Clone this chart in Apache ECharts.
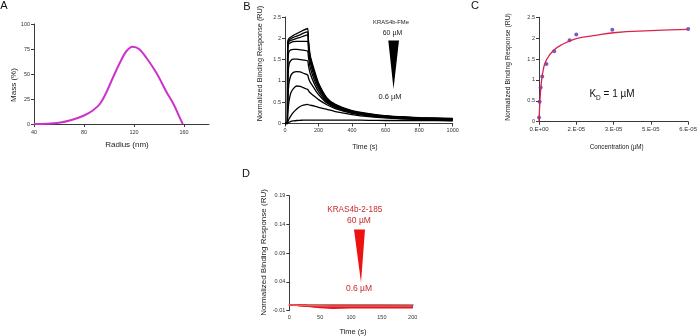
<!DOCTYPE html>
<html><head><meta charset="utf-8">
<script src="https://cdn.jsdelivr.net/npm/echarts@6/dist/echarts.min.js"></script>
<style>html,body{margin:0;padding:0;background:#fff}#c{width:700px;height:336px}</style>
</head><body><div id="c"></div>
<script>
// ---------- Panel A : mass distribution ----------
const radiusNm = [40, 50, 60, 70, 80, 87, 93, 98, 103, 109, 114, 119, 124, 130, 138, 146, 152, 156, 159];
const massPct  = [0, 0.2, 1.2, 4, 8.5, 13.5, 20.5, 32, 46, 62, 73, 77.3, 75, 66, 51, 32, 19, 8, 0];
const aXTicks = [40, 80, 120, 160];

// ---------- Panel B : KRAS4b-FMe sensorgrams ----------
const bTime   = [0, 14, 16, 20, 25, 35, 50, 70, 90, 110, 135, 140, 150, 175, 200, 250, 300, 400, 500, 600, 800, 1000];
const bCurve1 = [0, 0, 1.92, 1.97, 2.0, 2.03, 2.07, 2.11, 2.15, 2.19, 2.23, 1.95, 1.6, 1.25, 0.95, 0.6, 0.45, 0.3, 0.23, 0.18, 0.14, 0.12];
const bCurve2 = [0, 0, 1.88, 1.93, 1.96, 1.99, 2.02, 2.05, 2.08, 2.12, 2.15, 1.9, 1.56, 1.2, 0.92, 0.58, 0.44, 0.29, 0.22, 0.18, 0.13, 0.11];
const bCurve3 = [0, 0, 1.84, 1.9, 1.93, 1.95, 1.97, 2.0, 2.02, 2.05, 2.08, 1.85, 1.52, 1.15, 0.9, 0.57, 0.43, 0.28, 0.22, 0.17, 0.13, 0.11];
const bCurve4 = [0, 0, 1.72, 1.84, 1.88, 1.9, 1.92, 1.93, 1.93, 1.93, 1.93, 1.74, 1.44, 1.1, 0.86, 0.55, 0.42, 0.28, 0.21, 0.17, 0.12, 0.1];
const bCurve5 = [0, 0, 1.4, 1.62, 1.7, 1.73, 1.74, 1.74, 1.73, 1.72, 1.7, 1.55, 1.32, 1.02, 0.81, 0.53, 0.41, 0.27, 0.21, 0.16, 0.12, 0.1];
const bCurve6 = [0, 0, 0.9, 1.25, 1.4, 1.48, 1.51, 1.51, 1.5, 1.49, 1.47, 1.36, 1.18, 0.93, 0.75, 0.51, 0.39, 0.26, 0.2, 0.16, 0.11, 0.09];
const bCurve7 = [0, 0, 0.45, 0.8, 0.98, 1.13, 1.2, 1.22, 1.21, 1.18, 1.14, 1.07, 0.97, 0.82, 0.68, 0.48, 0.37, 0.25, 0.19, 0.15, 0.11, 0.09];
const bCurve8 = [0, 0, 0.2, 0.4, 0.55, 0.72, 0.82, 0.88, 0.87, 0.84, 0.8, 0.77, 0.72, 0.64, 0.56, 0.44, 0.35, 0.24, 0.18, 0.14, 0.1, 0.08];
const bCurve9 = [0, 0, 0.03, 0.07, 0.11, 0.18, 0.26, 0.34, 0.4, 0.43, 0.45, 0.44, 0.43, 0.41, 0.38, 0.33, 0.28, 0.21, 0.16, 0.13, 0.09, 0.07];
const bCurve10 = [0, 0, 0.01, 0.02, 0.03, 0.05, 0.06, 0.07, 0.075, 0.08, 0.08, 0.08, 0.08, 0.08, 0.08, 0.08, 0.08, 0.08, 0.075, 0.07, 0.07, 0.06];

// ---------- Panel C : steady-state binding ----------
const cConc = [1e-8, 2.5e-7, 6.6e-7, 1.3e-6, 3e-6, 6.1e-6, 1.23e-5, 1.5e-5, 2.95e-5, 6e-5];
const cResp = [0.1, 0.48, 0.82, 1.08, 1.38, 1.69, 1.95, 2.09, 2.2, 2.22];
const cFitConc = [0, 2.6e-7, 8e-7, 1.7e-6, 3e-6, 5.7e-6, 9.7e-6, 1.5e-5, 2.2e-5, 3e-5, 4.5e-5, 6e-5];
const cFitResp = [0, 0.36, 0.84, 1.24, 1.48, 1.70, 1.86, 1.99, 2.06, 2.13, 2.18, 2.21];
const cTickLabels = ['0.E+00', '2.E-05', '3.E-05', '5.E-05', '6.E-05'];

// ---------- Panel D : KRAS4b-2-185 sensorgrams ----------
const dTime  = [0, 10, 12, 13, 15, 30, 50, 70, 100, 150, 200];
const dResp1 = [0, 0, 0.002, 0, 0, -0.0005, -0.001, -0.001, -0.001, -0.001, -0.0015];
const dResp2 = [0, 0, 0.002, 0, -0.0005, -0.0015, -0.002, -0.0025, -0.0025, -0.003, -0.003];
const dResp3 = [0, 0, 0.001, 0, -0.001, -0.002, -0.0035, -0.004, -0.004, -0.004, -0.004];
const dResp4 = [0, 0, 0.001, 0, -0.001, -0.0025, -0.0045, -0.006, -0.005, -0.005, -0.005];
const dResp5 = [0, 0, 0.001, 0, -0.0005, -0.001, -0.0015, -0.002, -0.002, -0.002, -0.002];

const FONT = 'Liberation Sans, Arial, sans-serif';
const zip = (xs, ys) => xs.map((x, i) => [x, ys[i]]);

function ax(extra, fs) {
  const base = {
    type: 'value',
    axisLine: { show: true, onZero: false, lineStyle: { color: '#3a3a3a', width: 1 } },
    axisTick: { show: true, length: 3, lineStyle: { color: '#3a3a3a' } },
    axisLabel: { fontSize: fs || 5.5, color: '#333', margin: 4, fontFamily: FONT, formatter: v => String(v) },
    splitLine: { show: false }
  };
  return Object.assign(base, extra);
}

const bCurves = [bCurve1, bCurve2, bCurve3, bCurve4, bCurve5, bCurve6, bCurve7, bCurve8, bCurve9, bCurve10];
const dCurves = [dResp1, dResp2, dResp3, dResp4, dResp5];

const series = [];
series.push({ type: 'line', xAxisIndex: 0, yAxisIndex: 0, data: zip(radiusNm, massPct), smooth: 0.35,
  symbol: 'none', lineStyle: { color: '#cc33cc', width: 2 } });
bCurves.forEach(c => series.push({ type: 'line', xAxisIndex: 1, yAxisIndex: 1, data: zip(bTime, c),
  symbol: 'none', smooth: 0.2, lineStyle: { color: '#000', width: 1.3 } }));
series.push({ type: 'line', xAxisIndex: 2, yAxisIndex: 2, data: zip(cFitConc, cFitResp), smooth: true,
  symbol: 'none', lineStyle: { color: '#d6264f', width: 1.3 } });
series.push({ type: 'scatter', xAxisIndex: 2, yAxisIndex: 2, data: zip(cConc, cResp), symbolSize: 4,
  itemStyle: { color: '#5533bb' } });
dCurves.forEach((c, i) => series.push({ type: 'line', xAxisIndex: 3, yAxisIndex: 3, data: zip(dTime, c),
  symbol: 'none', lineStyle: { color: i === 4 ? '#f06060' : '#e3161c', width: 1.4 } }));

function txt(x, y, text, fs, color, rot, extra) {
  return Object.assign({ type: 'text', x: x, y: y, rotation: rot || 0,
    style: { text: text, fontSize: fs, fill: color || '#222', fontFamily: FONT, align: 'center', verticalAlign: 'middle' } }, extra || {});
}

const option = {
  animation: false,
  backgroundColor: '#fff',
  grid: [
    { left: 34, top: 24, width: 175, height: 100 },
    { left: 285, top: 17, width: 167.7, height: 106.5 },
    { left: 539, top: 17.3, width: 151, height: 104.4 },
    { left: 289.3, top: 195.7, width: 123.4, height: 115 }
  ],
  xAxis: [
    ax({ gridIndex: 0, min: 40, max: 180, interval: 40, axisLabel: { fontSize: 5.5, color: '#333', margin: 5, fontFamily: FONT, showMaxLabel: false } }),
    ax({ gridIndex: 1, min: 0, max: 1000, interval: 200 }),
    ax({ gridIndex: 2, min: 0, max: 6e-5, interval: 1.5e-5,
      axisLabel: { fontSize: 6, color: '#333', margin: 5, fontFamily: FONT,
        formatter: v => cTickLabels[Math.round(v / 1.5e-5)] } }),
    ax({ gridIndex: 3, min: 0, max: 200, interval: 50,
      axisLine: { show: true, onZero: true, lineStyle: { color: '#9a9a9a', width: 2 } } })
  ],
  yAxis: [
    ax({ gridIndex: 0, min: 0, max: 100, interval: 25 }),
    ax({ gridIndex: 1, min: 0, max: 2.5, interval: 0.5 }),
    ax({ gridIndex: 2, min: 0, max: 2.5, interval: 0.5 }),
    ax({ gridIndex: 3, min: -0.01, max: 0.19, interval: 0.05,
      axisLabel: { fontSize: 5.5, color: '#333', margin: 4, fontFamily: FONT, formatter: v => v.toFixed(2) } })
  ],
  series: series,
  graphic: [
    txt(4, 6, 'A', 11, '#111'),
    txt(247, 7, 'B', 11, '#111'),
    txt(475, 6, 'C', 11, '#111'),
    txt(246, 174, 'D', 11, '#111'),
    // axis titles
    txt(127, 145, 'Radius (nm)', 8, '#222'),
    txt(14, 85, 'Mass (%)', 8, '#222', Math.PI / 2),
    txt(365, 147, 'Time (s)', 7, '#222'),
    txt(260, 63.5, 'Normalized Binding Response (RU)', 7.3, '#222', Math.PI / 2),
    txt(616.7, 147, 'Concentration (\u00b5M)', 6.3, '#222'),
    txt(508, 67, 'Normalized Binding Response (RU)', 6.8, '#222', Math.PI / 2),
    txt(353, 331.5, 'Time (s)', 7.5, '#222'),
    txt(263.3, 252.5, 'Normalized Binding Response (RU)', 8, '#222', Math.PI / 2),
    // panel B annotation
    txt(391, 22.7, 'KRAS4b-FMe', 5.8, '#222'),
    txt(392.5, 33.3, '60 \u00b5M', 7, '#222'),
    { type: 'polygon', shape: { points: [[388.3, 40.5], [399, 40.5], [393.5, 89]] }, style: { fill: '#000' } },
    txt(390, 96.5, '0.6 \u00b5M', 7.5, '#222'),
    // panel C annotation
    { type: 'text', x: 612, y: 94, style: { rich: { k: { fontSize: 10, fontFamily: FONT, fill: '#111' }, s: { fontSize: 6.5, fontFamily: FONT, fill: '#111', verticalAlign: 'bottom', padding: [0, 0, -3, 0] } },
      text: '{k|K}{s|D}{k| = 1 \u00b5M}', align: 'center', verticalAlign: 'middle' } },
    // panel D annotation
    txt(354.7, 209.3, 'KRAS4b-2-185', 8.2, '#c8282d'),
    txt(359, 220.5, '60 \u00b5M', 8.5, '#c8282d'),
    { type: 'polygon', shape: { points: [[354, 229.5], [365, 229.5], [361, 282.5]] }, style: { fill: '#ee1111' } },
    txt(359, 288.5, '0.6 \u00b5M', 8.5, '#c8282d')
  ]
};

const chart = echarts.init(document.getElementById('c'), null, { renderer: 'canvas' });
chart.setOption(option);
</script>
</body></html>
